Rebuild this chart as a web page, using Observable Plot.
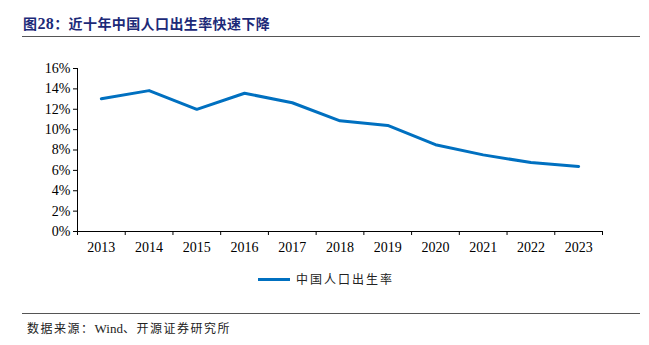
<!DOCTYPE html>
<html><head><meta charset="utf-8">
<script src="https://cdn.jsdelivr.net/npm/d3@7"></script>
<script src="https://cdn.jsdelivr.net/npm/@observablehq/plot@0.6"></script>
<style>
body{margin:0;background:#fff;}
#wrap{position:relative;width:649px;height:345px;overflow:hidden;background:#fff;}
.abs{position:absolute;white-space:nowrap;}
#title{left:23px;top:13px;font:bold 14px "Noto Sans CJK SC",sans-serif;color:#1c2a78;letter-spacing:0.4px;line-height:20px;}
#title .num{font-family:"Liberation Serif",serif;font-size:16px;}
.hr{position:absolute;height:0;border-top:1.5px solid #555;}
#chart{position:absolute;left:0;top:45px;}
#legend{left:258px;top:270px;font:12px "Noto Sans CJK SC",sans-serif;color:#222;letter-spacing:2px;line-height:18px;}
#legend .sw{display:inline-block;width:32px;height:3px;background:#0070c0;vertical-align:middle;margin-right:6px;position:relative;top:-1px;}
#source{left:27px;top:319px;font:12px "Noto Sans CJK SC",sans-serif;color:#222;letter-spacing:1.5px;line-height:18px;}
#source .lat{font-family:"Liberation Serif",serif;font-size:13px;letter-spacing:0;}
</style></head>
<body>
<div id="wrap">
  <div id="title" class="abs">图<span class="num">28</span>：近十年中国人口出生率快速下降</div>
  <div class="hr" style="left:22px;width:618px;top:36px;"></div>
  <div id="chart"></div>
  <div id="legend" class="abs"><span class="sw"></span>中国人口出生率</div>
  <div class="hr" style="left:22px;width:618px;top:313px;"></div>
  <div id="source" class="abs">数据来源：<span class="lat">Wind</span>、开源证券研究所</div>
</div>
<script>
const years = [2013, 2014, 2015, 2016, 2017, 2018, 2019, 2020, 2021, 2022, 2023];
const birthRate = [0.1303, 0.1383, 0.1199, 0.1357, 0.1264, 0.1086, 0.1041, 0.0852, 0.0752, 0.0677, 0.0639];
const yTicks = [0, 0.02, 0.04, 0.06, 0.08, 0.10, 0.12, 0.14, 0.16];

const data = years.map((y, i) => ({year: y, value: birthRate[i]}));
const bandEdges = years.map(y => y - 0.5).concat([years[years.length - 1] + 0.5]);

const plot = Plot.plot({
  width: 649,
  height: 215,
  marginLeft: 77,
  marginRight: 47,
  marginTop: 23,
  marginBottom: 29,
  style: {fontFamily: "'Liberation Serif', serif", fontSize: "14px", color: "#000", background: "transparent"},
  x: {domain: [years[0] - 0.5, years[years.length - 1] + 0.5], axis: null, label: null},
  y: {domain: [0, 0.16], axis: null, label: null},
  marks: [
    Plot.axisY({ticks: yTicks, tickFormat: d3.format(".0%"), tickSize: 4, tickPadding: 3, fontSize: 14, fontFamily: "'Liberation Serif', serif", label: null}),
    Plot.axisX({ticks: years, tickFormat: d => String(d), tickSize: 0, tickPadding: 11, fontSize: 14, fontFamily: "'Liberation Serif', serif", label: null}),
    Plot.ruleX(bandEdges, {x: d => d, y1: 0, y2: 0, insetBottom: -4, stroke: "#000"}),
    Plot.ruleX([years[0] - 0.5], {stroke: "#000"}),
    Plot.ruleY([0], {stroke: "#000"}),
    Plot.line(data, {x: "year", y: "value", stroke: "#0070c0", strokeWidth: 3})
  ]
});
document.getElementById("chart").appendChild(plot);
</script>
</body></html>
